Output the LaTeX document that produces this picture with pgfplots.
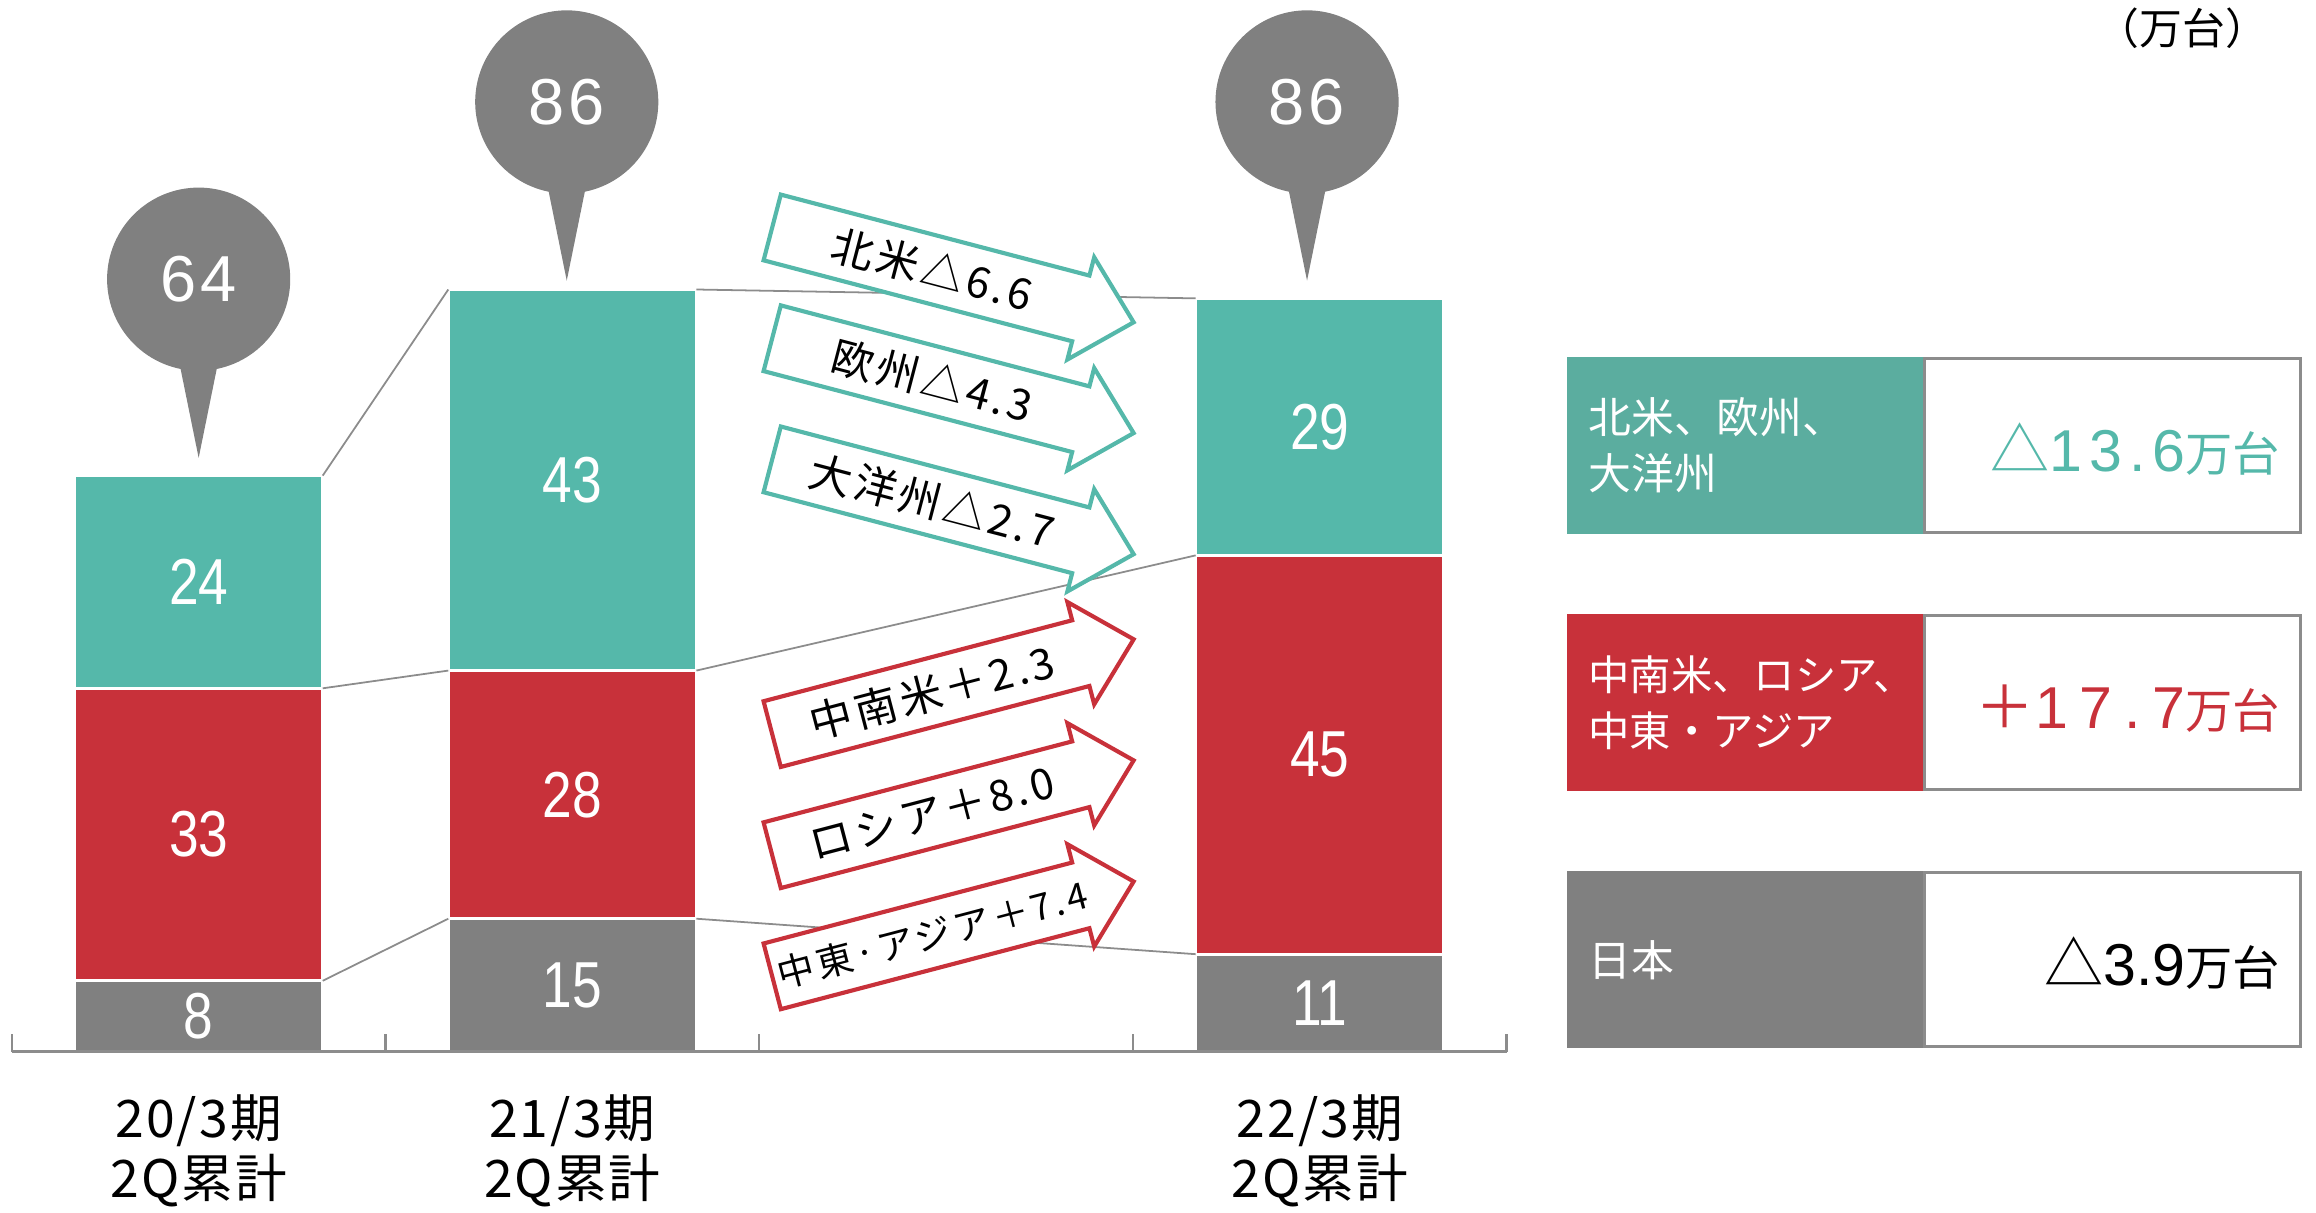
\documentclass[border=0pt]{standalone}
\usepackage{fontspec}
\setmainfont{Noto Sans CJK JP}
\newfontfamily\arialf{Liberation Sans}
\newfontfamily\narrowf{Liberation Sans}[FakeStretch=0.82]
\usepackage{pgfplots}
\usepackage{pgfplotstable}
\pgfplotsset{compat=1.18}
\definecolor{cteal}{HTML}{55B8AA}
\definecolor{hteal}{HTML}{5BAD9F}
\definecolor{cred}{HTML}{C8313A}
\definecolor{cgray}{HTML}{808080}
\definecolor{lgray}{HTML}{8C8C8C}

\pgfplotstableread{
x g r t
0 8 33 24
1 15 28 43
3 11 45 29
}\sales

\pgfplotsset{base/.style={
  at={(4pt,54.5pt)}, anchor=south west, scale only axis,
  width=506pt, height=300pt, xmin=-0.5, xmax=3.5, ymin=0, ymax=100, clip=false}}

\newcommand\bubble[3]{%
  \fill[cgray] (axis cs:#1,#2) -- ++(-6.5pt,32pt) -- ++(13pt,0pt) -- cycle;
  \fill[cgray] (axis cs:#1,#2) ++(0pt,60.5pt) circle[radius=31pt];
  \path (axis cs:#1,#2) ++(0pt,60.5pt) node[text=white, font=\arialf\fontsize{22}{22}\selectfont\addfontfeature{LetterSpace=6}] {#3};
}

\newcommand\blockarrow[6]{%
  \begin{scope}[shift={(#1pt,#2pt)}, rotate=#3]
    \draw[draw=#4, line width=1.4pt, fill=white, line join=miter]
      (0pt,11.5pt) -- (108pt,11.5pt) -- (108pt,17.9pt) -- (126.5pt,0pt)
      -- (108pt,-17.9pt) -- (108pt,-11.5pt) -- (0pt,-11.5pt) -- cycle;
    \node[transform shape, inner sep=0pt, font=\fontsize{#5}{#5}\selectfont\addfontfeature{LetterSpace=8}] at (56pt,0pt) {#6};
  \end{scope}}

\newcommand\panelrow[7]{% ybottom ytop color fontsize header value-ycenter value
  \fill[#3] (530.5pt,#1pt) rectangle (651pt,#2pt);
  \draw[lgray, line width=1pt] (651.5pt,#1pt+0.5pt) rectangle (778.8pt,#2pt-0.5pt);
  \node[anchor=west, align=left, text=white, inner sep=0pt, font=\fontsize{#4}{19}\selectfont] at (537.5pt,#6pt) {#5};
  \node[anchor=base east, inner sep=0pt] at (772pt,#6pt-8.8pt) {#7};
}

\begin{document}
\begin{tikzpicture}
\path[use as bounding box] (0pt,0pt) rectangle (784pt,410.5pt);

\begin{axis}[base, ybar stacked, bar width=84pt, axis on top,
  axis x line*=bottom, axis y line=none, ytick=\empty,
  x axis line style={-, draw=lgray, line width=0.8pt},
  xtick={0,1,3},
  xticklabels={{20/3期\\2Q累計},{21/3期\\2Q累計},{22/3期\\2Q累計}},
  major tick length=0pt,
  minor xtick={-0.5,0.5,1.5,2.5,3.5}, minor tick length=6pt, tick align=inside,
  minor x tick style={draw=lgray, line width=0.8pt},
  xticklabel style={align=center, anchor=north, yshift=-11pt,
    font=\fontsize{17.5}{20.5}\selectfont\addfontfeature{LetterSpace=4}},
]
\addplot[fill=cgray, draw=white, line width=1pt] table[x=x,y=g]{\sales};
\addplot[fill=cred, draw=white, line width=1pt] table[x=x,y=r]{\sales};
\addplot[fill=cteal, draw=white, line width=1pt] table[x=x,y=t]{\sales};
\end{axis}

\begin{axis}[base, hide axis]
\draw[lgray, line width=0.6pt] (axis cs:0.332,65) -- (axis cs:0.668,86);
\draw[lgray, line width=0.6pt] (axis cs:0.332,41) -- (axis cs:0.668,43);
\draw[lgray, line width=0.6pt] (axis cs:0.332,8) -- (axis cs:0.668,15);
\draw[lgray, line width=0.6pt] (axis cs:1.332,86) -- (axis cs:2.668,85);
\draw[lgray, line width=0.6pt] (axis cs:1.332,43) -- (axis cs:2.668,56);
\draw[lgray, line width=0.6pt] (axis cs:1.332,15) -- (axis cs:2.668,11);
\addplot[draw=none, nodes near coords={\pgfplotspointmeta}, point meta=explicit symbolic,
  every node near coord/.append style={anchor=center, text=white, font=\narrowf\fontsize{22}{22}\selectfont}]
  table[x=x, y expr=\thisrow{g}/2, meta=g]{\sales};
\addplot[draw=none, nodes near coords={\pgfplotspointmeta}, point meta=explicit symbolic,
  every node near coord/.append style={anchor=center, text=white, font=\narrowf\fontsize{22}{22}\selectfont}]
  table[x=x, y expr=\thisrow{g}+\thisrow{r}/2, meta=r]{\sales};
\addplot[draw=none, nodes near coords={\pgfplotspointmeta}, point meta=explicit symbolic,
  every node near coord/.append style={anchor=center, text=white, font=\narrowf\fontsize{22}{22}\selectfont}]
  table[x=x, y expr=\thisrow{g}+\thisrow{r}+\thisrow{t}/2, meta=t]{\sales};
\bubble{0}{67}{64}
\bubble{0.985}{87}{86}
\bubble{2.966}{87}{86}
\end{axis}

\blockarrow{261.4}{333.5}{-14.7}{cteal}{14.5}{北米△6.6}
\blockarrow{261.4}{296}{-14.7}{cteal}{14.5}{欧州△4.3}
\blockarrow{261.4}{255}{-14.7}{cteal}{14.5}{大洋州△2.7}
\blockarrow{261.4}{162}{14.7}{cred}{14.5}{中南米＋2.3}
\blockarrow{261.4}{121}{14.7}{cred}{14.5}{ロシア＋8.0}
\blockarrow{261.4}{80}{14.7}{cred}{12.5}{中東·アジア＋7.4}

\panelrow{229.75}{289.7}{hteal}{14.5}{北米、欧州、\\大洋州}{259.7}
  {\color{cteal}\fontsize{20}{20}\selectfont △\arialf\addfontfeature{LetterSpace=12}13.6\rmfamily\fontsize{16}{16}\selectfont 万台}
\panelrow{142.7}{202.6}{cred}{14}{中南米、ロシア、\\中東・アジア}{172.65}
  {\color{cred}\fontsize{20}{20}\selectfont ＋\arialf\addfontfeature{LetterSpace=20}17.7\rmfamily\fontsize{16}{16}\selectfont 万台}
\panelrow{55.6}{115.55}{cgray}{14.5}{日本}{85.6}
  {\fontsize{20}{20}\selectfont △\arialf 3.9\rmfamily\fontsize{16}{16}\selectfont 万台}

\node[anchor=east, inner sep=0pt, font=\fontsize{14.5}{14.5}\selectfont] at (768pt,401pt) {（万台）};
\end{tikzpicture}
\end{document}
